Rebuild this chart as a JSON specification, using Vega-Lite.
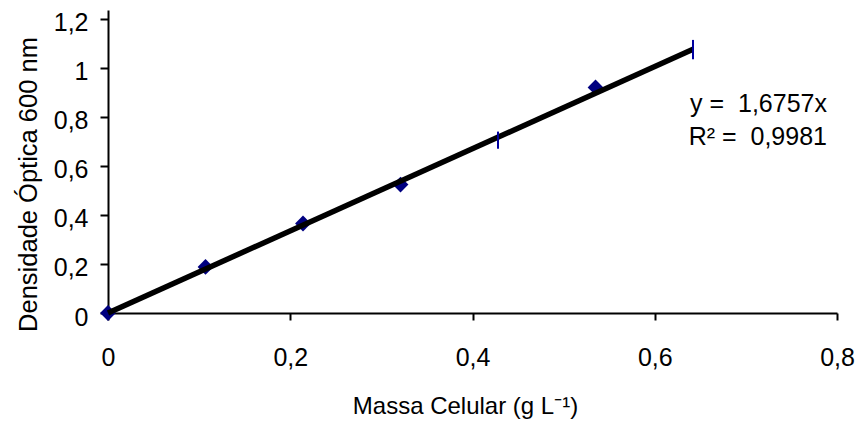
{
  "$schema": "https://vega.github.io/schema/vega-lite/v6.json",
  "width": 729,
  "height": 303,
  "autosize": {"type": "none"},
  "padding": {"left": 108, "top": 10, "right": 23, "bottom": 111},
  "background": "white",
  "datasets": {
    "pts": [
      {"x": 0, "y": 0},
      {"x": 0.107, "y": 0.188},
      {"x": 0.214, "y": 0.365},
      {"x": 0.321, "y": 0.524},
      {"x": 0.535, "y": 0.92}
    ],
    "bars": [
      {"x": 0.428, "y1": 0.67, "y2": 0.74},
      {"x": 0.642, "y1": 1.035, "y2": 1.114}
    ],
    "fit": [
      {"x": 0, "y": 0},
      {"x": 0.642, "y": 1.0758}
    ],
    "notes": [
      {"x": 0.789, "y": 0.82, "t": "y =\u00a0 1,6757x"},
      {"x": 0.789, "y": 0.685, "t": "R² =\u00a0 0,9981"}
    ]
  },
  "layer": [
    {
      "data": {"name": "pts"},
      "mark": {"type": "point", "shape": "diamond", "filled": true, "color": "#000080", "size": 250, "opacity": 1},
      "encoding": {
        "x": {
          "field": "x", "type": "quantitative",
          "scale": {"domain": [0, 0.8], "nice": false, "zero": false},
          "axis": {
            "values": [0, 0.2, 0.4, 0.6, 0.8],
            "labelExpr": "replace(format(datum.value, '~g'), '.', ',')",
            "tickSize": 7,
            "labelPadding": 45,
            "labelBaseline": "alphabetic",
            "labelFlush": false,
            "labelOverlap": false,
            "title": "Massa Celular (g L⁻¹)",
            "titleX": 357,
            "titleY": 100,
            "titleAlign": "center",
            "titleBaseline": "alphabetic"
          }
        },
        "y": {
          "field": "y", "type": "quantitative",
          "scale": {"domain": [0, 1.236], "nice": false, "zero": false},
          "axis": {
            "values": [0, 0.2, 0.4, 0.6, 0.8, 1, 1.2],
            "labelExpr": "replace(format(datum.value, '~g'), '.', ',')",
            "tickSize": 8,
            "labelPadding": 12,
            "labelBaseline": "middle",
            "labelOffset": 4,
            "labelFlush": false,
            "labelOverlap": false,
            "title": "Densidade Óptica 600 nm",
            "titleFontSize": 25.5,
            "titleX": -80,
            "titleY": 174,
            "titleAngle": 270,
            "titleAlign": "center",
            "titleBaseline": "middle"
          }
        }
      }
    },
    {
      "data": {"name": "fit"},
      "mark": {"type": "line", "color": "black", "strokeWidth": 5.5, "strokeCap": "butt"},
      "encoding": {
        "x": {"field": "x", "type": "quantitative"},
        "y": {"field": "y", "type": "quantitative"}
      }
    },
    {
      "data": {"name": "bars"},
      "mark": {"type": "rule", "color": "#0000a0", "strokeWidth": 2},
      "encoding": {
        "x": {"field": "x", "type": "quantitative"},
        "y": {"field": "y1", "type": "quantitative"},
        "y2": {"field": "y2"}
      }
    },
    {
      "data": {"name": "notes"},
      "mark": {"type": "text", "align": "right", "baseline": "alphabetic", "font": "Liberation Sans", "fontSize": 25, "color": "black"},
      "encoding": {
        "x": {"field": "x", "type": "quantitative"},
        "y": {"field": "y", "type": "quantitative"},
        "text": {"field": "t"}
      }
    }
  ],
  "config": {
    "view": {"stroke": null},
    "axis": {
      "grid": false,
      "domainColor": "black",
      "domainWidth": 2,
      "tickColor": "black",
      "tickWidth": 2,
      "labelFont": "Liberation Sans",
      "labelFontSize": 25,
      "labelColor": "black",
      "titleFont": "Liberation Sans",
      "titleFontSize": 24,
      "titleFontWeight": "normal",
      "titleColor": "black"
    }
  }
}
